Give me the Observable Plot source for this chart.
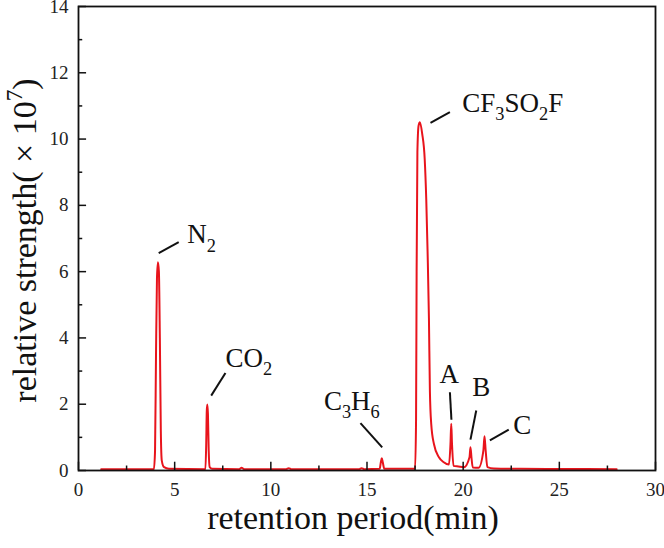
<!DOCTYPE html>
<html>
<head>
<meta charset="utf-8">
<script src="https://cdn.jsdelivr.net/npm/d3@7"></script>
<script src="https://cdn.jsdelivr.net/npm/@observablehq/plot@0.6"></script>
<style>
  html, body { margin: 0; padding: 0; background: #fff; }
  #chart svg { display: block; }
</style>
</head>
<body>
<div id="chart"></div>
<script>
// ---- data ----
const traceTime = [
  1.18, 3.92, 3.98, 4.03, 4.08, 4.13, 4.18, 4.23, 4.28, 4.33, 4.45, 4.7,
  6.6, 6.64, 6.67, 6.7, 6.73, 6.77, 6.82, 6.95,
  8.35, 8.48, 8.62, 10.8, 10.93, 11.06, 14.6, 14.72, 14.85,
  15.66, 15.72, 15.77, 15.82, 15.9,
  17.5, 17.55, 17.58, 17.62, 17.68, 17.75, 17.87, 18.0, 18.08, 18.15, 18.22, 18.27, 18.34, 18.48, 18.74, 18.99, 19.26,
  19.34, 19.38, 19.42, 19.5, 19.75, 20.04,
  20.33, 20.38, 20.43, 20.5, 20.8,
  21.05, 21.11, 21.17, 21.26, 21.6, 23.0, 25.0, 27.98
];
const traceSignal = [
  0.04, 0.04, 0.6, 3.5, 5.8, 6.28, 6.0, 4.0, 1.2, 0.3, 0.1, 0.05,
  0.04, 0.8, 1.8, 1.99, 1.7, 0.6, 0.1, 0.05,
  0.04, 0.08, 0.04, 0.04, 0.07, 0.04, 0.04, 0.07, 0.04,
  0.05, 0.25, 0.37, 0.25, 0.05,
  0.05, 1.5, 6.0, 9.6, 10.4, 10.51, 10.16, 9.4, 8.2, 6.6, 4.6, 2.4, 1.4, 0.8, 0.4, 0.25, 0.18,
  0.8, 1.41, 0.8, 0.14, 0.12, 0.1,
  0.4, 0.7, 0.4, 0.09, 0.08,
  0.6, 1.03, 0.6, 0.1, 0.06, 0.05, 0.045, 0.04
];

const xTicks = [0, 5, 10, 15, 20, 25, 30];
const xMinorTicks = [2.5, 7.5, 12.5, 17.5, 22.5, 27.5];
const yTicks = [0, 2, 4, 6, 8, 10, 12, 14];
const yMinorTicks = [1, 3, 5, 7, 9, 11, 13];

// peak annotations: label (with _ subscript markers), text anchor (time, signal),
// leader line from (t1, s1) to (t2, s2)
const labelNames = ["N_2", "CO_2", "C_3H_6", "CF_3SO_2F", "A", "B", "C"];
const labelTime  = [5.65, 7.64, 12.76, 19.95, 18.77, 20.47, 22.60];
const labelValue = [6.85, 3.12, 1.83, 10.81, 2.63, 2.26, 1.11];
const leaderT1 = [4.17, 6.90, 14.66, 18.30, 19.31, 20.68, 21.39];
const leaderS1 = [6.56, 2.26, 1.43, 10.49, 2.36, 1.81, 0.91];
const leaderT2 = [5.21, 7.64, 15.79, 19.31, 19.39, 20.38, 22.37];
const leaderS2 = [6.89, 2.94, 0.70, 10.81, 1.53, 0.93, 1.23];

const xTitle = "retention period(min)";
const yTitle = "relative strength( × 10^7)";

// ---- build tables ----
const trace = traceTime.map((t, i) => ({t, s: traceSignal[i]}));
const labels = labelNames.map((name, i) => ({name, t: labelTime[i], s: labelValue[i]}));
const leaders = labelNames.map((name, i) => ({t1: leaderT1[i], s1: leaderS1[i], t2: leaderT2[i], s2: leaderS2[i]}));

const serif = "'Liberation Serif', 'Times New Roman', serif";

const plot = Plot.plot({
  width: 664,
  height: 548,
  marginLeft: 78,
  marginRight: 9,
  marginTop: 6,
  marginBottom: 78,
  style: {fontFamily: serif, color: "#111", background: "#fff"},
  x: {domain: [0, 30]},
  y: {domain: [0, 14]},
  marks: [
    Plot.line(trace, {x: "t", y: "s", stroke: "#e8141c", strokeWidth: 2, curve: "monotone-x"}),
    // inward ticks
    Plot.ruleX(xTicks, {x: d => d, y1: 0, y2: 0.25, stroke: "#111", strokeWidth: 1.5}),
    Plot.ruleX(xMinorTicks, {x: d => d, y1: 0, y2: 0.135, stroke: "#111", strokeWidth: 1.5}),
    Plot.ruleY(yTicks, {y: d => d, x1: 0, x2: 0.42, stroke: "#111", strokeWidth: 1.5}),
    Plot.ruleY(yMinorTicks, {y: d => d, x1: 0, x2: 0.22, stroke: "#111", strokeWidth: 1.5}),
    Plot.axisX(xTicks, {tickSize: 0, tickPadding: 12, fontSize: 19, fontFamily: serif, fill: "#222", label: null}),
    Plot.axisY(yTicks, {tickSize: 0, tickPadding: 10, fontSize: 19, fontFamily: serif, fill: "#222", label: null}),
    Plot.frame({stroke: "#111", strokeWidth: 1.8}),
    // leader lines and peak labels
    Plot.link(leaders, {x1: "t1", y1: "s1", x2: "t2", y2: "s2", stroke: "#111", strokeWidth: 2}),
    Plot.text(labels, {x: "t", y: "s", text: "name", textAnchor: "start", lineAnchor: "bottom",
      fontSize: 27, fontFamily: serif, fill: "#111"}),
    // axis titles
    Plot.text([xTitle], {frameAnchor: "bottom", text: d => d, textAnchor: "middle", dx: -14, dy: 58, fontSize: 34, fontFamily: serif, fill: "#111"}),
    Plot.text([yTitle], {frameAnchor: "left", text: d => d, textAnchor: "middle", rotate: -90, dx: -53, dy: 2, fontSize: 34, fontFamily: serif, fill: "#111"})
  ]
});

document.getElementById("chart").appendChild(plot);

// convert _x (subscript) and ^x (superscript) markers into tspans
const NS = "http://www.w3.org/2000/svg";
plot.querySelectorAll("text").forEach(t => {
  const s = t.textContent;
  if (!/[_^]/.test(s)) return;
  const fs = parseFloat(getComputedStyle(t).fontSize) || 16;
  while (t.firstChild) t.removeChild(t.firstChild);
  const re = /([_^])(.)|([^_^]+)/g;
  let m, cur = 0;
  while ((m = re.exec(s))) {
    const ts = document.createElementNS(NS, "tspan");
    let target;
    if (m[3] !== undefined) {
      ts.textContent = m[3];
      target = 0;
    } else {
      ts.textContent = m[2];
      ts.setAttribute("font-size", (0.68 * fs).toFixed(2));
      target = m[1] === "_" ? 0.3 * fs : -0.42 * fs;
    }
    const d = target - cur;
    if (Math.abs(d) > 1e-6) ts.setAttribute("dy", d.toFixed(2));
    cur = target;
    t.appendChild(ts);
  }
});
</script>
</body>
</html>
